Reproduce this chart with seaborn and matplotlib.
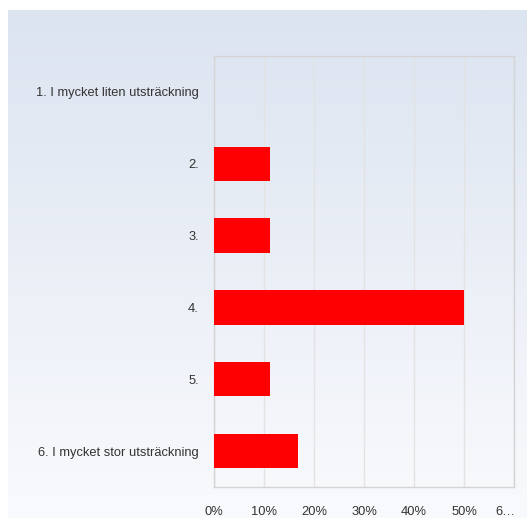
import numpy as np
import pandas as pd
import matplotlib
matplotlib.use("Agg")
import matplotlib.pyplot as plt
import matplotlib.transforms as mtransforms
import seaborn as sns

categories = ["1. I mycket liten utsträckning", "2.", "3.", "4.", "5.", "6. I mycket stor utsträckning"]
values = [0.0, 11.1, 11.1, 50.0, 11.1, 16.7]
xticks = [0, 10, 20, 30, 40, 50, 60]
xticklabels = ["0%", "10%", "20%", "30%", "40%", "50%", "6…"]

sns.set_theme(style="white")
plt.rcParams['font.family'] = ['Liberation Sans', 'DejaVu Sans']

W, H = 527, 518
fig = plt.figure(figsize=(W / 100, H / 100), dpi=100)
fig.patch.set_facecolor("white")

# gradient background
bg = fig.add_axes([8 / W, 0, 1 - 8 / W, (H - 10) / H])
top = np.array([0xdc, 0xe4, 0xf0]) / 255
bot = np.array([0xf9, 0xfa, 0xfd]) / 255
t = np.linspace(0, 1, 256)[:, None]
grad = top[None, :] * (1 - t) + bot[None, :] * t
bg.imshow(grad[:, None, :], aspect="auto", extent=[0, 1, 0, 1])
bg.set_axis_off()

ax = fig.add_axes([214 / W, 1 - 487 / H, 300 / W, (487 - 56) / H])
ax.patch.set_alpha(0)
df = pd.DataFrame({"cat": categories, "val": values})
sns.barplot(data=df, x="val", y="cat", orient="h", color="#ff0000", saturation=1,
            width=0.48, ax=ax, zorder=3, linewidth=0, edgecolor="none")
ax.set_xlim(0, 60)
ax.set_ylim(5.5, -0.5)
ax.set_xticks(xticks)
ax.set_xticklabels(xticklabels)
ax.set_xlabel("")
ax.set_ylabel("")
ax.grid(axis="x", color="#e3e3e3", linewidth=1, zorder=0)
ax.grid(axis="y", visible=False)
for s in ax.spines.values():
    s.set_color("#d4d4d4")
    s.set_linewidth(1)
ax.tick_params(axis="y", length=0, pad=11, labelsize=9.3, labelcolor="#333333")
ax.tick_params(axis="x", length=0, pad=14, labelsize=9.3, labelcolor="#333333")

last = ax.get_xticklabels()[-1]
last.set_transform(last.get_transform() + mtransforms.ScaledTranslation(-9 / 100, 0, fig.dpi_scale_trans))

fig.savefig("out.png", dpi=100)
